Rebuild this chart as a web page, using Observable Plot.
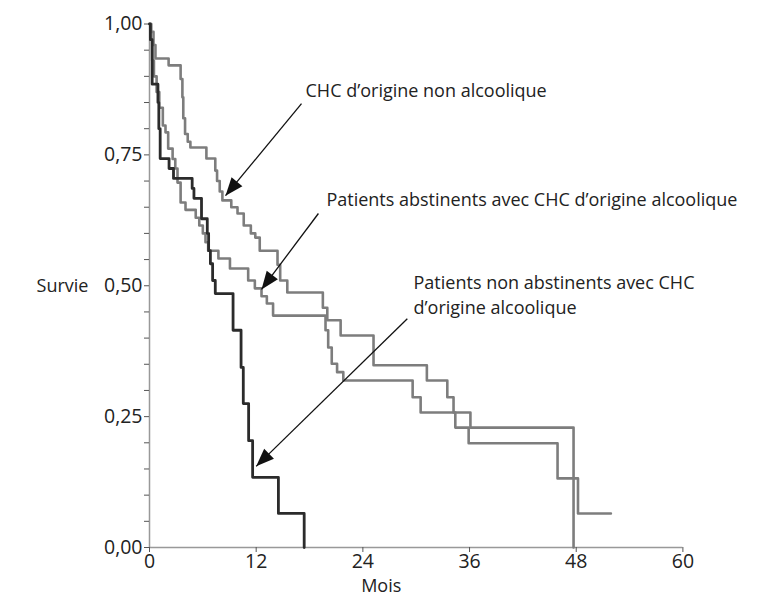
<!DOCTYPE html>
<html>
<head>
<meta charset="utf-8">
<script src="https://cdn.jsdelivr.net/npm/d3@7"></script>
<script src="https://cdn.jsdelivr.net/npm/@observablehq/plot@0.6"></script>
<style>
  html, body { margin: 0; padding: 0; background: #fff; }
</style>
</head>
<body>
<div id="chart"></div>
<script>
// Kaplan–Meier curves (months, survival)
const tNonAlc = [0,0.2,0.45,0.67,2.15,3.5,3.7,3.8,4.0,4.3,4.6,6.4,7.4,7.6,7.9,8.2,9.2,9.9,10.6,11.4,11.9,12.4,14.4,14.7,15.5,19.5,20.0,21.5,25.2,31.2,33.5,34.2,36.1,47.7];
const sNonAlc = [1,0.985,0.96,0.934,0.921,0.895,0.86,0.82,0.79,0.775,0.764,0.743,0.72,0.70,0.68,0.663,0.65,0.638,0.615,0.60,0.592,0.567,0.54,0.51,0.487,0.458,0.434,0.405,0.348,0.319,0.287,0.258,0.229,0];

const tAbst = [0,0.1,0.3,0.5,0.8,1.1,1.5,1.8,2.1,2.6,2.9,3.15,3.5,4.05,5.2,5.6,6.0,6.3,6.6,7.75,9.05,11.1,11.85,12.6,13.2,13.9,19.8,20.1,20.5,21.1,21.8,29.6,30.5,34.4,35.9,45.9,48.2,51.9];
const sAbst = [1,0.97,0.93,0.90,0.87,0.84,0.806,0.793,0.762,0.742,0.724,0.697,0.659,0.645,0.63,0.615,0.60,0.583,0.567,0.552,0.533,0.51,0.495,0.48,0.466,0.443,0.415,0.382,0.351,0.335,0.319,0.287,0.258,0.229,0.199,0.132,0.065,0.065];

const tNonAbst = [0,0.1,0.3,0.95,1.05,1.2,2.2,2.7,4.8,5.0,5.85,6.5,6.65,6.85,7.1,7.4,9.4,10.3,10.55,11.15,11.6,14.5,17.4];
const sNonAbst = [1,0.97,0.885,0.85,0.80,0.743,0.724,0.705,0.686,0.667,0.628,0.6,0.567,0.542,0.51,0.485,0.415,0.344,0.275,0.204,0.134,0.065,0];

const xTicks = [0,12,24,36,48,60];
const yTicks = d3.range(0, 21).map(i => i * 0.05);
const yLabelTicks = [0, 0.25, 0.5, 0.75, 1];

// annotations (text in data units)
const labelTexts = ["CHC d’origine non alcoolique", "Patients abstinents avec CHC d’origine alcoolique", "Patients non abstinents avec CHC", "d’origine alcoolique"];
const labelX = [17.55, 19.9, 29.7, 29.7];
const labelY = [0.871, 0.663, 0.504, 0.457];

const arrowX1 = [17.1, 19.0, 29.0];
const arrowY1 = [0.848, 0.638, 0.437];
const arrowX2 = [8.55, 12.6, 12.0];
const arrowY2 = [0.672, 0.493, 0.155];

const W = 761, H = 597, ML = 149, MR = 78.6, MT = 23.5, MB = 50;

const toRows = (t, s, name) => t.map((d, i) => ({t: d, s: s[i], name}));
const curves = [
  ...toRows(tNonAlc, sNonAlc, "nonalc"),
  ...toRows(tAbst, sAbst, "abst"),
  ...toRows(tNonAbst, sNonAbst, "nonabst")
];
const labels = labelTexts.map((d, i) => ({text: d, x: labelX[i], y: labelY[i]}));

const kx = (W - ML - MR) / 60, ky = (H - MT - MB) / 1;
const arrows = arrowX1.map((d, i) => {
  const dx = (arrowX2[i] - d) * kx;
  const dy = -(arrowY2[i] - arrowY1[i]) * ky;
  return {x1: d, y1: arrowY1[i], x2: arrowX2[i], y2: arrowY2[i], rot: Math.atan2(dx, -dy) * 180 / Math.PI};
});

const headSymbol = {
  draw(ctx, size) {
    const L = 18, hw = 7;
    ctx.moveTo(0, 0);
    ctx.lineTo(hw, L);
    ctx.lineTo(-hw, L);
    ctx.closePath();
  }
};

const fmt = d => yLabelTicks.some(v => Math.abs(v - d) < 1e-9) ? d.toFixed(2).replace(".", ",") : "";

const chart = Plot.plot({
  width: W, height: H,
  marginLeft: ML, marginRight: MR, marginTop: MT, marginBottom: MB,
  style: {fontFamily: "'Open Sans', sans-serif", fontSize: "17px", background: "#fff", color: "#222"},
  x: {domain: [0, 60]},
  y: {domain: [0, 1]},
  marks: [
    Plot.ruleY([0], {stroke: "#999", strokeWidth: 1.5}),
    Plot.ruleX([0], {stroke: "#999", strokeWidth: 1.5}),
    Plot.axisX({ticks: xTicks, tickSize: 5, tickPadding: 2, label: null, stroke: "#555", fill: "#222", fontSize: 19.5}),
    Plot.axisY({ticks: yTicks, tickSize: 5, tickPadding: 2, tickFormat: fmt, label: null, stroke: "#555", fill: "#222", fontSize: 19.5}),
    Plot.line(curves.filter(d => d.name === "nonalc"), {x: "t", y: "s", curve: "step-after", stroke: "#7d7d7d", strokeWidth: 2.6}),
    Plot.line(curves.filter(d => d.name === "abst"), {x: "t", y: "s", curve: "step-after", stroke: "#7d7d7d", strokeWidth: 2.6}),
    Plot.line(curves.filter(d => d.name === "nonabst"), {x: "t", y: "s", curve: "step-after", stroke: "#2b2b2b", strokeWidth: 2.8}),
    Plot.link(arrows, {x1: "x1", y1: "y1", x2: "x2", y2: "y2", stroke: "#111", strokeWidth: 1.3}),
    Plot.dot(arrows, {x: "x2", y: "y2", symbol: headSymbol, rotate: "rot", fill: "#111", stroke: "none", r: 5}),
    Plot.text(labels, {x: "x", y: "y", text: "text", textAnchor: "start", fontSize: 18, fill: "#222"}),
    Plot.text(["Mois"], {text: d => d, frameAnchor: "bottom", textAnchor: "middle", lineAnchor: "middle", dx: -35, dy: 39, fontSize: 18, fill: "#222"}),
    Plot.text(["Survie"], {text: d => d, frameAnchor: "left", textAnchor: "middle", lineAnchor: "middle", dx: -87, fontSize: 18, fill: "#222"})
  ]
});
document.getElementById("chart").appendChild(chart);
</script>
</body>
</html>
